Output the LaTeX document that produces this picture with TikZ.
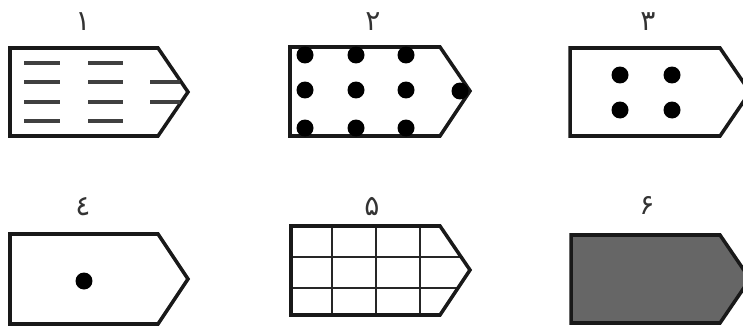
\documentclass[tikz,border=0pt]{standalone}
\usepackage{fontspec}
\TeXXeTstate=1
\newfontfamily\arabicfont[Script=Arabic]{DejaVu Sans}

\begin{document}
\begin{tikzpicture}[
  x=0.02cm, y=-0.02cm,
  outline/.style={draw=black!90, line width=2pt, line join=miter},
  num/.style={font=\arabicfont\fontsize{16}{18}\selectfont, text=black!80},
  dashline/.style={line width=1.8pt, black!75},
  gridline/.style={line width=1.5pt, black!85},
  dot/.style={circle, fill=black, inner sep=0pt, minimum size=0.34cm}
]
\useasboundingbox (0,0) rectangle (743,328);

% Shape 1: short dashes
\node[num] (num1) at (83,22) {\beginR ۱\endR};
\draw[outline] (10,48) -- (158,48) -- (188,92) -- (158,136) -- (10,136) -- cycle;
\foreach \y in {63,82,102,121}
  \draw[dashline] (24,\y) -- (60,\y) (88,\y) -- (123,\y);
\foreach \y in {82,102}
  \draw[dashline] (150,\y) -- (180,\y);

% Shape 2: nine dots and one on the tip
\node[num] (num2) at (373,22) {\beginR ۲\endR};
\draw[outline] (290,47) -- (440,47) -- (470,91) -- (440,136) -- (290,136) -- cycle;
\foreach \x in {305,356,406}
  \foreach \y in {55,90,128}
    \node[dot] (dot2-\x-\y) at (\x,\y) {};
\node[dot] (dot2-tip) at (460,91) {};

% Shape 3: four dots
\node[num] (num3) at (648,22) {\beginR ۳\endR};
\draw[outline] (570,48) -- (720,48) -- (750,92) -- (720,136) -- (570,136) -- cycle;
\foreach \x in {620,672}
  \foreach \y in {75,110}
    \node[dot] (dot3-\x-\y) at (\x,\y) {};

% Shape 4: one dot
\node[num] (num4) at (83,207) {\beginR ٤\endR};
\draw[outline] (10,234) -- (158,234) -- (188,279) -- (158,324) -- (10,324) -- cycle;
\node[dot] (dot4) at (84,281) {};

% Shape 5: grid
\node[num] (num5) at (372,207) {\beginR ۵\endR};
\foreach \x in {332,376,420}
  \draw[gridline] (\x,226) -- (\x,315);
\draw[gridline] (291,257) -- (461,257);
\draw[gridline] (291,288) -- (458,288);
\draw[outline] (291,226) -- (440,226) -- (470,270) -- (440,315) -- (291,315) -- cycle;

% Shape 6: filled
\node[num] (num6) at (647,205) {\beginR ۶\endR};
\draw[outline, fill=black!60] (571,235) -- (720,235) -- (750,279) -- (720,323) -- (571,323) -- cycle;

\end{tikzpicture}
\end{document}
